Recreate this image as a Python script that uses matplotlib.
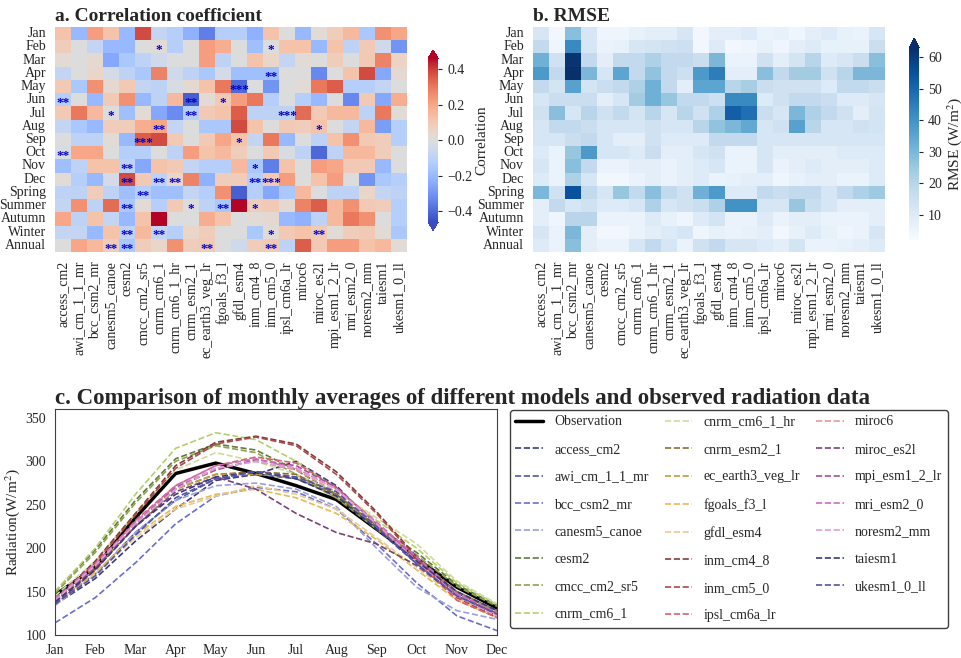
# Heatmaps of model skill plus monthly radiation curves
import matplotlib
matplotlib.use("Agg")
import matplotlib.pyplot as plt
import seaborn as sns

# Row / column labels
months = ['Jan', 'Feb', 'Mar', 'Apr', 'May', 'Jun', 'Jul', 'Aug', 'Sep', 'Oct', 'Nov', 'Dec']
periods = months + ['Spring', 'Summer', 'Autumn', 'Winter', 'Annual']
models = ['access_cm2', 'awi_cm_1_1_mr', 'bcc_csm2_mr', 'canesm5_canoe', 'cesm2',
          'cmcc_cm2_sr5', 'cnrm_cm6_1', 'cnrm_cm6_1_hr', 'cnrm_esm2_1', 'ec_earth3_veg_lr',
          'fgoals_f3_l', 'gfdl_esm4', 'inm_cm4_8', 'inm_cm5_0', 'ipsl_cm6a_lr', 'miroc6',
          'miroc_es2l', 'mpi_esm1_2_lr', 'mri_esm2_0', 'noresm2_mm', 'taiesm1', 'ukesm1_0_ll']

# Correlation coefficient (rows = periods, cols = models)
corr_values = [
    [0.12, -0.20, 0.22, 0.12, -0.20, 0.38, -0.08, -0.12, -0.22, -0.35, -0.12, -0.12, -0.22, 0.12, 0.00, -0.20, 0.02, 0.08, 0.15, -0.15, 0.25, 0.20],
    [0.08, 0.00, -0.08, -0.20, -0.20, 0.00, 0.02, -0.12, 0.00, 0.22, 0.18, 0.00, -0.18, 0.00, 0.12, 0.12, -0.20, 0.12, -0.10, 0.10, -0.05, -0.30],
    [0.02, 0.00, 0.03, -0.25, -0.15, -0.10, -0.05, 0.00, 0.00, 0.22, -0.10, 0.00, 0.12, 0.05, -0.08, 0.02, 0.00, 0.08, 0.00, 0.10, 0.28, 0.06],
    [-0.08, 0.00, 0.05, -0.03, -0.10, -0.15, 0.28, -0.05, -0.10, -0.15, -0.03, -0.18, -0.18, -0.18, 0.00, 0.00, -0.33, 0.00, 0.12, 0.38, -0.25, 0.03],
    [0.10, -0.15, 0.25, 0.03, 0.10, -0.08, -0.10, -0.02, 0.03, 0.12, 0.30, -0.40, 0.00, -0.30, 0.00, 0.02, 0.30, 0.35, -0.12, -0.12, -0.08, 0.00],
    [-0.12, 0.00, -0.20, 0.10, 0.25, -0.20, -0.10, 0.15, -0.42, 0.02, 0.10, 0.22, 0.30, -0.12, 0.00, -0.12, -0.20, 0.00, -0.33, 0.10, -0.25, 0.18],
    [0.10, 0.30, 0.15, 0.00, -0.18, 0.02, -0.25, -0.32, -0.12, 0.10, 0.12, 0.35, -0.10, -0.10, -0.10, 0.32, 0.10, 0.15, 0.15, -0.10, 0.30, 0.02],
    [-0.08, -0.15, -0.20, 0.08, 0.08, 0.18, 0.20, -0.08, 0.00, -0.15, -0.15, 0.38, 0.12, 0.00, 0.10, 0.08, 0.12, 0.00, -0.08, 0.15, -0.28, -0.12],
    [0.00, -0.10, -0.10, 0.02, -0.20, 0.35, 0.38, 0.10, 0.00, 0.10, 0.20, 0.12, -0.08, 0.30, -0.20, 0.00, -0.10, 0.12, 0.25, 0.10, 0.08, -0.12],
    [-0.02, 0.20, 0.20, 0.00, -0.12, -0.12, 0.00, -0.10, 0.22, 0.12, 0.15, 0.08, 0.00, 0.10, -0.02, -0.10, -0.40, -0.10, 0.15, 0.15, 0.08, 0.00],
    [-0.18, -0.10, 0.12, 0.12, -0.10, -0.25, 0.12, 0.10, -0.08, -0.12, -0.12, 0.15, -0.15, -0.35, 0.12, 0.00, 0.22, 0.20, 0.10, 0.10, -0.20, 0.00],
    [0.02, -0.12, -0.20, -0.03, 0.38, 0.10, -0.10, 0.05, 0.28, -0.22, 0.08, 0.08, -0.12, 0.10, 0.22, 0.00, 0.12, 0.22, 0.00, -0.30, -0.15, -0.12],
    [-0.10, -0.10, 0.08, -0.10, -0.18, -0.12, -0.18, -0.18, -0.08, -0.12, 0.25, -0.42, -0.12, -0.25, -0.15, 0.15, 0.00, -0.10, -0.10, 0.05, -0.08, -0.10],
    [-0.08, 0.25, -0.10, 0.32, -0.15, 0.02, -0.12, 0.10, 0.00, -0.10, -0.15, 0.50, 0.08, 0.10, 0.03, 0.28, 0.35, 0.15, 0.25, 0.10, 0.08, -0.12],
    [0.20, -0.10, 0.12, -0.08, -0.20, 0.12, 0.48, 0.00, 0.00, 0.18, 0.12, 0.00, 0.02, 0.03, -0.20, -0.22, -0.10, 0.15, 0.30, 0.25, 0.00, -0.12],
    [-0.08, -0.08, -0.20, 0.12, -0.10, 0.15, -0.08, -0.12, 0.05, 0.08, 0.00, 0.00, -0.15, 0.02, 0.10, 0.12, 0.10, 0.02, 0.08, 0.10, 0.02, -0.15],
    [0.00, 0.20, 0.15, 0.08, -0.15, 0.08, 0.05, 0.25, 0.08, 0.10, 0.00, -0.05, 0.08, 0.10, -0.10, 0.35, 0.10, 0.22, 0.22, 0.12, 0.15, 0.02],
]

# Significance marks: (row, column, stars)
significance = [
    (1, 6, '*'), (1, 13, '*'), (3, 13, '**'), (4, 11, '***'),
    (5, 0, '**'), (5, 8, '**'), (5, 10, '*'),
    (6, 3, '*'), (6, 8, '**'), (6, 14, '***'),
    (7, 6, '**'), (7, 16, '*'), (8, 5, '***'), (8, 11, '*'),
    (9, 0, '**'), (10, 4, '**'), (10, 12, '*'),
    (11, 4, '**'), (11, 6, '**'), (11, 7, '**'), (11, 12, '**'), (11, 13, '***'),
    (12, 5, '**'), (13, 4, '**'), (13, 8, '*'), (13, 10, '**'), (13, 12, '*'),
    (15, 4, '**'), (15, 6, '**'), (15, 13, '*'), (15, 16, '**'),
    (16, 3, '**'), (16, 4, '**'), (16, 9, '**'), (16, 13, '**'),
]

# RMSE in W/m2 (rows = periods, cols = models)
rmse_values = [
    [12, 4, 28, 12, 5, 5, 7, 8, 8, 12, 4, 8, 8, 10, 6, 7, 5, 8, 10, 7, 6, 12],
    [18, 5, 42, 12, 6, 7, 12, 13, 14, 15, 4, 10, 4, 5, 7, 5, 8, 10, 7, 7, 7, 16],
    [32, 14, 62, 18, 8, 18, 18, 22, 18, 18, 16, 30, 6, 6, 14, 8, 13, 20, 10, 12, 16, 28],
    [38, 18, 65, 30, 12, 35, 18, 27, 18, 15, 38, 45, 8, 8, 28, 18, 24, 24, 14, 20, 30, 30],
    [18, 13, 36, 13, 16, 18, 22, 32, 18, 8, 35, 35, 20, 23, 16, 14, 14, 14, 10, 18, 18, 16],
    [12, 16, 16, 16, 8, 12, 24, 32, 26, 18, 18, 15, 42, 42, 10, 14, 18, 18, 16, 10, 10, 12],
    [14, 28, 12, 20, 14, 18, 13, 20, 12, 20, 14, 22, 52, 48, 16, 12, 30, 22, 18, 14, 8, 13],
    [12, 18, 18, 16, 12, 12, 12, 14, 12, 12, 20, 27, 30, 34, 12, 14, 36, 20, 12, 12, 14, 13],
    [12, 12, 16, 18, 12, 8, 8, 14, 10, 10, 10, 18, 18, 18, 12, 12, 12, 12, 12, 12, 12, 12],
    [10, 6, 26, 38, 12, 12, 10, 16, 8, 8, 12, 14, 6, 6, 12, 8, 8, 8, 8, 10, 10, 10],
    [12, 6, 28, 18, 6, 6, 8, 8, 6, 8, 10, 12, 6, 6, 12, 6, 8, 10, 8, 8, 8, 10],
    [10, 6, 22, 12, 4, 4, 6, 8, 6, 8, 10, 6, 7, 8, 8, 5, 7, 8, 8, 6, 6, 10],
    [30, 14, 55, 18, 12, 26, 18, 28, 18, 14, 32, 38, 10, 10, 18, 16, 18, 18, 12, 18, 22, 25],
    [8, 18, 12, 14, 10, 10, 12, 22, 12, 14, 16, 22, 40, 40, 12, 12, 26, 16, 12, 8, 8, 8],
    [8, 5, 20, 20, 6, 6, 6, 10, 7, 5, 10, 13, 6, 6, 10, 6, 8, 8, 6, 6, 6, 8],
    [12, 6, 30, 8, 4, 4, 6, 8, 10, 12, 5, 7, 6, 7, 8, 4, 7, 10, 7, 5, 6, 12],
    [10, 6, 28, 8, 6, 6, 12, 18, 12, 6, 14, 18, 12, 12, 10, 8, 13, 6, 6, 7, 8, 10],
]

# Monthly mean radiation (W/m2)
observation = [146, 178, 235, 286, 298, 286, 272, 256, 222, 188, 155, 131]
model_radiation = [
    [135, 165, 208, 245, 278, 285, 300, 272, 225, 185, 148, 128],  # access_cm2
    [138, 170, 218, 255, 280, 285, 280, 262, 222, 182, 145, 125],  # awi_cm_1_1_mr
    [114, 143, 183, 228, 260, 270, 265, 245, 205, 160, 122, 105],  # bcc_csm2_mr
    [134, 170, 218, 255, 272, 275, 268, 248, 200, 155, 128, 118],  # canesm5_canoe
    [150, 198, 255, 303, 320, 313, 290, 262, 225, 195, 158, 134],  # cesm2
    [148, 195, 252, 300, 318, 310, 285, 258, 222, 192, 156, 133],  # cmcc_cm2_sr5
    [150, 200, 262, 315, 333, 325, 300, 268, 232, 200, 160, 135],  # cnrm_cm6_1
    [145, 185, 240, 290, 310, 300, 285, 265, 235, 205, 162, 136],  # cnrm_cm6_1_hr
    [140, 178, 225, 268, 285, 288, 285, 262, 225, 190, 150, 128],  # cnrm_esm2_1
    [140, 175, 228, 268, 285, 285, 282, 258, 228, 188, 148, 126],  # ec_earth3_veg_lr
    [138, 172, 215, 248, 262, 268, 258, 240, 210, 175, 140, 120],  # fgoals_f3_l
    [135, 170, 212, 245, 260, 272, 262, 245, 212, 178, 142, 122],  # gfdl_esm4
    [140, 185, 240, 295, 322, 329, 320, 288, 242, 190, 145, 122],  # inm_cm4_8
    [138, 183, 238, 292, 320, 328, 318, 285, 240, 188, 143, 120],  # inm_cm5_0
    [138, 178, 232, 272, 295, 305, 298, 270, 228, 185, 140, 120],  # ipsl_cm6a_lr
    [140, 180, 230, 270, 292, 300, 290, 265, 225, 185, 145, 122],  # miroc6
    [135, 175, 225, 265, 282, 268, 240, 218, 205, 180, 145, 125],  # miroc_es2l
    [140, 178, 228, 270, 290, 302, 295, 270, 228, 188, 148, 125],  # mpi_esm1_2_lr
    [142, 182, 230, 272, 295, 303, 292, 268, 230, 190, 148, 126],  # mri_esm2_0
    [140, 180, 228, 268, 292, 300, 292, 268, 228, 185, 145, 122],  # noresm2_mm
    [138, 175, 225, 262, 282, 288, 280, 260, 222, 185, 150, 128],  # taiesm1
    [136, 168, 215, 258, 280, 288, 282, 265, 225, 182, 145, 124],  # ukesm1_0_ll
]


def draw_heatmap(ax, cax, values, cmap, vmin, vmax, extend, ticks, label):
    """Draw one model-by-period heatmap with its colorbar."""
    sns.heatmap(values, ax=ax, cbar_ax=cax, cmap=cmap, vmin=vmin, vmax=vmax,
                xticklabels=models, yticklabels=periods,
                cbar_kws={'extend': extend, 'ticks': ticks})
    ax.set_yticklabels(periods, rotation=0, fontsize=10)
    ax.set_xticklabels(models, rotation=90, fontsize=10)
    ax.tick_params(length=3, width=0.8)
    cax.tick_params(labelsize=10, length=3)
    cax.set_ylabel(label, fontsize=11, labelpad=2)


def main():
    sns.set_style('white')
    plt.rcParams['font.family'] = ['Liberation Serif', 'DejaVu Serif']
    plt.rcParams['mathtext.fontset'] = 'stix'
    plt.rcParams['axes.unicode_minus'] = True

    fig = plt.figure(figsize=(9.62, 6.58), dpi=100)

    # a. correlation heatmap
    ax_a = fig.add_axes([0.0572, 0.617, 0.366, 0.342])
    cax_a = fig.add_axes([0.445, 0.650, 0.0104, 0.274])
    draw_heatmap(ax_a, cax_a, corr_values, 'coolwarm', -0.46, 0.46, 'both',
                 [-0.4, -0.2, 0.0, 0.2, 0.4], 'Correlation')
    for row, col, stars in significance:
        ax_a.text(col + 0.5, row + 0.75, stars, ha='center', va='center',
                  color='#0000c8', fontsize=9.5, fontweight='bold')
    ax_a.set_title('a. Correlation coefficient', loc='left', fontsize=14,
                   fontweight='bold', pad=4)

    # b. RMSE heatmap
    ax_b = fig.add_axes([0.554, 0.617, 0.366, 0.342])
    cax_b = fig.add_axes([0.945, 0.635, 0.0104, 0.307])
    draw_heatmap(ax_b, cax_b, rmse_values, 'Blues', 2, 63, 'max',
                 [10, 20, 30, 40, 50, 60], 'RMSE (W/m$^2$)')
    ax_b.set_title('b. RMSE', loc='left', fontsize=14, fontweight='bold', pad=4)

    # c. monthly curves
    ax_c = fig.add_axes([0.0572, 0.035, 0.4595, 0.343])
    palette = plt.get_cmap('tab20b')
    x = list(range(len(months)))
    ax_c.plot(x, observation, color='black', lw=2.5, label='Observation')
    for i, name in enumerate(models):
        ax_c.plot(x, model_radiation[i], ls='--', lw=1.2, color=palette(i % 20), label=name)
    ax_c.set_xlim(0, 11)
    ax_c.set_ylim(100, 360)
    ax_c.set_xticks(x)
    ax_c.set_xticklabels(months)
    ax_c.set_yticks([100, 150, 200, 250, 300, 350])
    ax_c.tick_params(labelsize=10, length=3)
    ax_c.set_ylabel('Radiation(W/m$^2$)', fontsize=11, labelpad=2)
    for spine in ax_c.spines.values():
        spine.set_color('0.25')
    ax_c.set_title('c. Comparison of monthly averages of different models and observed radiation data',
                   loc='left', fontsize=16.5, fontweight='bold', pad=4)

    leg = ax_c.legend(ncol=3, loc='upper left', mode='expand',
                      bbox_to_anchor=(0.530, 0.047, 0.455, 0.330),
                      bbox_transform=fig.transFigure, borderaxespad=0,
                      fontsize=10, labelspacing=1.04, handlelength=2.0,
                      frameon=True, fancybox=True, framealpha=1)
    leg.get_frame().set_edgecolor('0.25')
    leg.get_frame().set_linewidth(1.0)

    fig.savefig('out.png', dpi=100)


if __name__ == '__main__':
    main()
